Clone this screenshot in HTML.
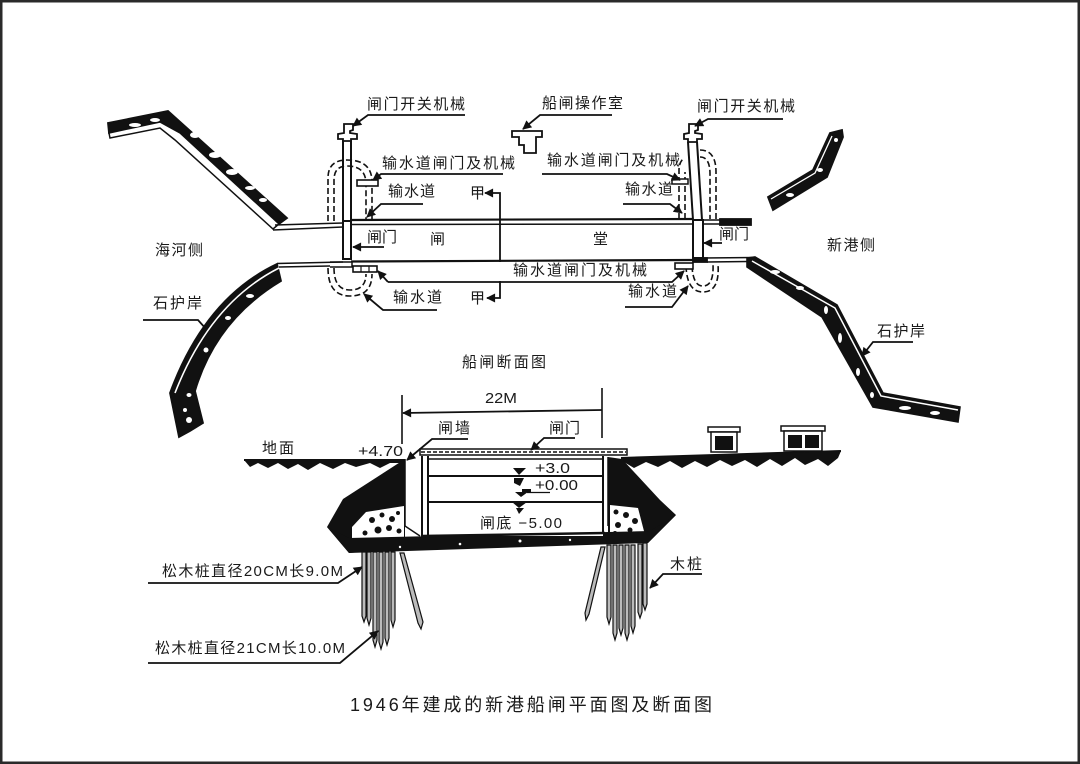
<!DOCTYPE html>
<html><head><meta charset="utf-8"><style>
html,body{margin:0;padding:0;background:#fff;}
svg{display:block;}
text{font-family:"Liberation Sans","Noto Sans CJK SC",sans-serif;font-size:15px;fill:#1a1a1a;}
</style></head><body>
<svg width="1080" height="764" viewBox="0 0 1080 764" xmlns="http://www.w3.org/2000/svg">
<defs>
<marker id="a" viewBox="0 0 10 10" refX="9" refY="5" markerWidth="11" markerHeight="9" markerUnits="userSpaceOnUse" orient="auto"><path d="M0,0 L10,5 L0,10 z" fill="#111"/></marker>
</defs>
<rect x="1.25" y="1.25" width="1077.5" height="761.5" fill="#fff" stroke="#2a2a2a" stroke-width="2.5"/>

<g stroke="#111" fill="none" stroke-width="1.8">
<!-- ===== PLAN VIEW ===== -->
<!-- left upper bank -->
<polygon points="108,123 168,111 287,218 279,224 180,133 160,122 109,133" fill="#111" stroke="#111"/>
<polygon points="109,133 160,122 180,133 279,224 273,229 175,140 160,128 110,138" fill="#fff" stroke-width="1.5"/>
<g fill="#fff" stroke="none">
<ellipse cx="135" cy="125" rx="6" ry="2"/><ellipse cx="155" cy="120" rx="5" ry="2"/>
<ellipse cx="195" cy="135" rx="5" ry="3"/><ellipse cx="215" cy="155" rx="6" ry="3"/>
<ellipse cx="232" cy="172" rx="6" ry="3"/><ellipse cx="250" cy="188" rx="5" ry="2"/>
<ellipse cx="263" cy="200" rx="4" ry="2"/>
</g>
<!-- top left double line -->
<line x1="275" y1="225" x2="343" y2="223" stroke-width="1.5"/>
<line x1="273" y1="230" x2="343" y2="227" stroke-width="1.5"/>
<!-- lock top wall -->
<line x1="351" y1="220" x2="693" y2="219" stroke-width="2.2"/>
<line x1="351" y1="224.5" x2="693" y2="224" stroke-width="1.5"/>
<line x1="703" y1="220" x2="720" y2="220" stroke-width="1.5"/>
<line x1="703" y1="224" x2="720" y2="224" stroke-width="1.5"/>
<rect x="720" y="219" width="31" height="6" fill="#111"/>
<!-- lock bottom wall -->
<line x1="351" y1="261.5" x2="693" y2="260" stroke-width="2.2"/>
<!-- section line 甲 -->
<polyline points="500,262 500,193 485,193" marker-end="url(#a)"/>
<polyline points="500,281 500,298 487,298" marker-end="url(#a)"/>

<!-- operation room icon -->
<polygon points="512,131 542,131 542,137 536,137 536,153 524,153 524,145 519,145 519,137 512,137" fill="#fff" stroke-width="1.8"/>

<!-- left gate & tower -->
<rect x="343" y="221" width="8" height="38" fill="#fff" stroke-width="2"/>
<line x1="343" y1="140" x2="343" y2="221" stroke-width="2"/>
<line x1="351" y1="140" x2="351" y2="221" stroke-width="2"/>
<polygon points="344,124 353,124 353,130 350,131 350,133 357,134 357,139 351,139 351,141 343,141 343,139 338,139 338,134 344,133" fill="#fff" stroke-width="1.8"/>
<g stroke-dasharray="6,3" stroke-width="1.6">
<path d="M328,221 L328,178 Q328,160 347,160 Q372,160 372,182 L372,221"/>
<path d="M334,221 L334,180 Q334,166 347,166 Q366,166 366,184 L366,221"/>
<path d="M328,268 Q328,296 350,296 Q372,296 372,274"/>
<path d="M334,268 Q334,290 350,290 Q366,290 366,274"/>
</g>
<rect x="357" y="180" width="21" height="6" fill="#fff" stroke-width="1.6"/>
<!-- left lower bars -->
<path d="M330,262 L352,262 L352,267 L330,267" fill="#fff" stroke-width="1.5"/>
<rect x="353" y="266" width="24" height="6" fill="#fff" stroke-width="1.6"/>
<line x1="361" y1="266" x2="361" y2="272" stroke-width="1.2"/><line x1="369" y1="266" x2="369" y2="272" stroke-width="1.2"/>
<!-- left lower bank -->
<path d="M277,264 Q205,298 170,393 L179,437 L190,431 L203,423 L195,391 Q216,320 281,281 Z" fill="#111" stroke="#111"/>
<path d="M279,268 Q210,303 175,393" stroke="#fff" stroke-width="1.6"/>
<g fill="#fff" stroke="none">
<ellipse cx="250" cy="296" rx="4" ry="2"/><ellipse cx="228" cy="318" rx="3" ry="2"/>
<ellipse cx="206" cy="350" rx="2.5" ry="2.5"/><ellipse cx="189" cy="395" rx="2.5" ry="2"/>
<circle cx="189" cy="420" r="3"/><circle cx="185" cy="410" r="2"/>
</g>
<line x1="277" y1="263.5" x2="343" y2="262" stroke-width="1.5"/>
<line x1="279" y1="267" x2="330" y2="266" stroke-width="1.5"/>

<!-- right gate & tower -->
<rect x="693" y="220" width="10" height="38" fill="#fff" stroke-width="2"/>
<line x1="688" y1="142" x2="693" y2="220" stroke-width="2"/>
<line x1="697" y1="142" x2="702" y2="220" stroke-width="2"/>
<polygon points="689,124 698,124 698,130 695,131 695,133 702,134 702,139 697,139 697,142 688,142 688,139 684,139 684,134 689,133" fill="#fff" stroke-width="1.8"/>
<g stroke-dasharray="6,3" stroke-width="1.6">
<path d="M700,150 Q716,150 716,172 L716,219"/>
<path d="M700,157 Q710,157 710,174 L710,219"/>
<path d="M679,219 L679,170 Q679,162 684,158"/>
<path d="M685,219 L685,172"/>
<path d="M686,266 Q687,292 703,292 Q720,292 718,264"/>
<path d="M692,266 Q693,286 703,286 Q714,286 713,264"/>
</g>
<rect x="672" y="179" width="16" height="5" fill="#fff" stroke-width="1.5"/>
<rect x="675" y="263" width="18" height="6" fill="#fff" stroke-width="1.6"/>
<rect x="693" y="258" width="14" height="4" fill="#111"/>
<line x1="703" y1="258" x2="755" y2="257.5" stroke-width="1.6"/>
<line x1="707" y1="262" x2="748" y2="261.5" stroke-width="1.6"/>

<!-- right upper small bank -->
<polygon points="768,197 813,170 830,133 842,130 843,137 827,177 773,210" fill="#111"/>
<path d="M771,199 L815,173 L832,136" stroke="#fff" stroke-width="1.3"/>
<g fill="#fff" stroke="none"><ellipse cx="790" cy="195" rx="4" ry="2"/><ellipse cx="820" cy="170" rx="3" ry="2"/><circle cx="836" cy="140" r="2"/></g>

<!-- right lower bank -->
<polygon points="747,258 755,257 837,305 883,393 960,407 958,422 873,407 822,317 747,267" fill="#111" stroke-width="1.6"/>
<path d="M752,261 L835,308 L881,396 L958,410" stroke="#fff" stroke-width="1.5"/>
<g fill="#fff" stroke="none">
<ellipse cx="775" cy="272" rx="5" ry="2"/><ellipse cx="800" cy="288" rx="4" ry="2"/>
<ellipse cx="826" cy="310" rx="2" ry="4"/><ellipse cx="840" cy="338" rx="2" ry="5"/>
<ellipse cx="858" cy="372" rx="2" ry="4"/><ellipse cx="872" cy="395" rx="2" ry="3"/>
<ellipse cx="905" cy="408" rx="6" ry="2"/><ellipse cx="935" cy="413" rx="5" ry="2"/>
</g>

<!-- plan leaders -->
<polyline points="465,115 368,115 353,126" marker-end="url(#a)"/>
<polyline points="612,115 540,115 523,129" marker-end="url(#a)"/>
<polyline points="783,119 708,119 695,126" marker-end="url(#a)"/>
<polyline points="503,174 381,174 373,180" marker-end="url(#a)"/>
<polyline points="423,204 381,204 367,217" marker-end="url(#a)"/>
<line x1="384" y1="247" x2="353" y2="247" marker-end="url(#a)"/>
<polyline points="388,282 672,282 684,271" marker-end="url(#a)"/>
<line x1="388" y1="282" x2="378" y2="271" marker-end="url(#a)"/>
<polyline points="437,310 383,310 364,294" marker-end="url(#a)"/>
<polyline points="542,174 667,174 680,180" marker-end="url(#a)"/>
<polyline points="623,204 670,204 682,213" marker-end="url(#a)"/>
<line x1="722" y1="243" x2="704" y2="243" marker-end="url(#a)"/>
<polyline points="625,307 672,307 688,286" marker-end="url(#a)"/>
<polyline points="143,320 198,320 207,330"/>
<polyline points="913,342 873,342 862,356" marker-end="url(#a)"/>

<!-- ===== SECTION VIEW ===== -->
<!-- dimension -->
<line x1="402" y1="395" x2="402" y2="444" stroke-width="1.6"/>
<line x1="602" y1="388" x2="602" y2="438" stroke-width="1.6"/>
<line x1="602" y1="410" x2="403" y2="413" marker-end="url(#a)"/>

<!-- ground left -->
<line x1="244" y1="460" x2="405" y2="460" stroke-width="2"/>
<polygon points="244,460 405,460 405,463 390,463 380,468 370,463 356,467 345,463 333,469 320,463 308,470 298,464 288,469 278,463 268,468 258,463 250,467" fill="#111" stroke="none"/>
<!-- ground right -->
<line x1="621" y1="458" x2="841" y2="451" stroke-width="2"/>
<polygon points="621,458 841,451 838,458 828,466 818,459 805,465 795,458 782,466 770,459 757,467 745,460 732,466 720,460 707,467 695,461 682,468 670,461 658,467 646,462 634,468 624,462" fill="#111" stroke="none"/>
<!-- houses -->
<rect x="708" y="427" width="32" height="5" fill="#fff" stroke-width="1.5"/>
<rect x="711" y="432" width="26" height="20" fill="#fff" stroke-width="1.5"/>
<rect x="715" y="436" width="18" height="14" fill="#111" stroke="none"/>
<rect x="781" y="426" width="44" height="5" fill="#fff" stroke-width="1.5"/>
<rect x="784" y="431" width="38" height="20" fill="#fff" stroke-width="1.5"/>
<rect x="788" y="435" width="14" height="13" fill="#111" stroke="none"/>
<rect x="805" y="435" width="14" height="13" fill="#111" stroke="none"/>

<!-- left mass -->
<polygon points="405,459 343,499 327,527 349,553 405,548" fill="#111" stroke="none"/>
<polygon points="366,512 404,506 404,537 352,539 352,527" fill="#fff" stroke="none"/>
<g fill="#111" stroke="none">
<circle cx="372" cy="520" r="3"/><circle cx="382" cy="515" r="2.5"/><circle cx="392" cy="519" r="3"/>
<circle cx="378" cy="530" r="3.5"/><circle cx="389" cy="528" r="3"/><circle cx="399" cy="531" r="2.5"/>
<circle cx="365" cy="533" r="2.5"/><circle cx="398" cy="513" r="2"/>
</g>
<!-- right mass -->
<polygon points="608,457 622,459 660,500 676,515 648,543 608,540" fill="#111" stroke="none"/>
<polygon points="610,505 638,508 645,535 610,536" fill="#fff" stroke="none"/>
<g fill="#111" stroke="none">
<circle cx="616" cy="512" r="2.5"/><circle cx="626" cy="515" r="3"/><circle cx="635" cy="521" r="3"/>
<circle cx="618" cy="525" r="3"/><circle cx="630" cy="530" r="2.5"/><circle cx="615" cy="533" r="2"/>
</g>
<!-- chamber walls -->
<line x1="405" y1="459" x2="405" y2="526" stroke-width="1.5"/>
<line x1="405" y1="526" x2="420" y2="536" stroke-width="1.5"/>
<line x1="608" y1="457" x2="608" y2="526" stroke-width="1.5"/>
<!-- slab -->
<polygon points="327,527 349,538 650,531 676,515 648,543 349,553" fill="#111" stroke="none"/>
<g fill="#fff" stroke="none"><circle cx="460" cy="544" r="1.3"/><circle cx="520" cy="541" r="1.5"/><circle cx="570" cy="540" r="1.2"/><circle cx="400" cy="547" r="1.2"/></g>
<!-- chamber -->
<rect x="422" y="456" width="181" height="80" fill="#fff" stroke="none"/>
<line x1="422" y1="456" x2="422" y2="537" stroke-width="2"/>
<line x1="428" y1="456" x2="428" y2="536" stroke-width="2"/>
<line x1="603" y1="456" x2="603" y2="532" stroke-width="2"/>
<line x1="428" y1="459" x2="603" y2="459" stroke-width="1.5"/>
<line x1="428" y1="476" x2="603" y2="476" stroke-width="2"/>
<line x1="428" y1="502" x2="603" y2="502" stroke-width="2"/>
<line x1="422" y1="536" x2="605" y2="533" stroke-width="2.5"/>
<!-- gate deck -->
<rect x="420" y="449" width="207" height="6" fill="#fff" stroke-width="1.5"/>
<line x1="421" y1="452" x2="626" y2="452" stroke-dasharray="4,2" stroke-width="1.4"/>
<!-- water markers -->
<g fill="#111" stroke="none">
<polygon points="513,468 526,468 519,475"/><polygon points="514,478 524,478 520,486 514,483"/>
<polygon points="515,492 528,492 521,497"/><rect x="522" y="489" width="9" height="3"/>
<polygon points="512,502 527,502 519,508"/><polygon points="516,508 524,508 519,514"/>
</g>
<line x1="527" y1="492.5" x2="550" y2="492.5" stroke-width="1.2"/>

<!-- piles left -->
<g fill="#bbb" stroke="#111" stroke-width="1.2">
<polygon points="362,552 366,552 366,616 364,622 362,616"/>
<polygon points="367,552 371,552 371,618 369,625 367,618"/>
<polygon points="373,552 377,552 377,640 375,647 373,640"/>
<polygon points="379,552 383,552 383,642 381,649 379,642"/>
<polygon points="385,552 389,552 389,638 387,645 385,638"/>
<polygon points="391,552 395,552 395,620 393,627 391,620"/>
<polygon points="400,553 404,553 423,622 421,629 418,623"/>
</g>
<!-- piles right -->
<g fill="#bbb" stroke="#111" stroke-width="1.2">
<polygon points="601,547 605,547 589,614 586,620 585,613"/>
<polygon points="607,545 611,545 611,617 609,624 607,617"/>
<polygon points="613,545 617,545 617,633 615,640 613,633"/>
<polygon points="619,545 623,545 623,628 621,635 619,628"/>
<polygon points="625,545 629,545 629,633 627,640 625,633"/>
<polygon points="631,545 635,545 635,626 633,633 631,626"/>
<polygon points="638,544 642,544 642,612 640,618 638,612"/>
<polygon points="643,543 647,543 647,604 645,610 643,604"/>
</g>

<!-- section leaders -->
<polyline points="468,439 432,439 407,460" marker-end="url(#a)"/>
<polyline points="575,438 544,438 531,450" marker-end="url(#a)"/>
<polyline points="702,574 663,574 650,588" marker-end="url(#a)"/>
<polyline points="148,583 338,583 362,567" marker-end="url(#a)"/>
<polyline points="148,663 340,663 378,631" marker-end="url(#a)"/>
</g>

<!-- ===== TEXT ===== -->
<text x="367" y="109" textLength="98" lengthAdjust="spacing">闸门开关机械</text>
<text x="542" y="108" textLength="81" lengthAdjust="spacing">船闸操作室</text>
<text x="697" y="111" textLength="98" lengthAdjust="spacing">闸门开关机械</text>
<text x="382" y="168" textLength="133" lengthAdjust="spacing">输水道闸门及机械</text>
<text x="547" y="165" textLength="133" lengthAdjust="spacing">输水道闸门及机械</text>
<text x="388" y="196" textLength="47" lengthAdjust="spacing">输水道</text>
<text x="625" y="194" textLength="48" lengthAdjust="spacing">输水道</text>
<text x="470" y="198">甲</text>
<text x="367" y="242" textLength="30" lengthAdjust="spacing">闸门</text>
<text x="430" y="244">闸</text>
<text x="593" y="244">堂</text>
<text x="719" y="239" textLength="30" lengthAdjust="spacing">闸门</text>
<text x="155" y="255" textLength="48" lengthAdjust="spacing">海河侧</text>
<text x="827" y="250" textLength="48" lengthAdjust="spacing">新港侧</text>
<text x="513" y="275" textLength="134" lengthAdjust="spacing">输水道闸门及机械</text>
<text x="393" y="302" textLength="49" lengthAdjust="spacing">输水道</text>
<text x="470" y="303">甲</text>
<text x="628" y="296" textLength="49" lengthAdjust="spacing">输水道</text>
<text x="153" y="308" textLength="49" lengthAdjust="spacing">石护岸</text>
<text x="877" y="336" textLength="48" lengthAdjust="spacing">石护岸</text>
<text x="462" y="367" textLength="84" lengthAdjust="spacing">船闸断面图</text>
<text x="485" y="403" textLength="32" lengthAdjust="spacingAndGlyphs">22M</text>
<text x="262" y="453" textLength="32" lengthAdjust="spacing">地面</text>
<text x="358" y="456" textLength="45" lengthAdjust="spacingAndGlyphs">+4.70</text>
<text x="438" y="433" textLength="32" lengthAdjust="spacing">闸墙</text>
<text x="549" y="433" textLength="31" lengthAdjust="spacing">闸门</text>
<text x="535" y="473" textLength="35" lengthAdjust="spacingAndGlyphs">+3.0</text>
<text x="535" y="490" textLength="43" lengthAdjust="spacingAndGlyphs">+0.00</text>
<text x="480" y="528" textLength="82" lengthAdjust="spacing">闸底 −5.00</text>
<text x="670" y="569" textLength="32" lengthAdjust="spacing">木桩</text>
<text x="162" y="576" textLength="181" lengthAdjust="spacing">松木桩直径20CM长9.0M</text>
<text x="155" y="653" textLength="190" lengthAdjust="spacing">松木桩直径21CM长10.0M</text>
<text x="350" y="711" textLength="362" lengthAdjust="spacing" style="font-size:18px">1946年建成的新港船闸平面图及断面图</text>
</svg>
</body></html>
